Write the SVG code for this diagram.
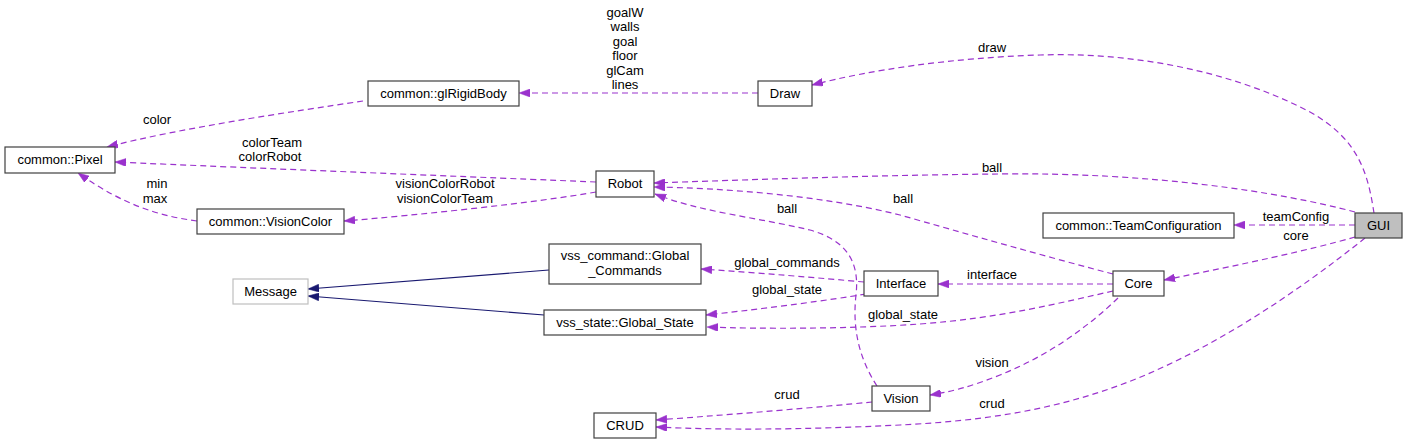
<svg xmlns="http://www.w3.org/2000/svg" width="1408" height="444" viewBox="0 0 1408 444">
<style>
text{font-family:"Liberation Sans",Arial,Helvetica,sans-serif;font-size:13px;fill:#000}
.n rect{fill:#fff;stroke:#404040;stroke-width:1.2}
.n text{text-anchor:middle}
.e{fill:none;stroke:#9a32cd;stroke-width:1.2;stroke-dasharray:6,4;marker-end:url(#ap)}
.i{fill:none;stroke:#191970;stroke-width:1.2;marker-end:url(#an)}
.l text{text-anchor:middle}
</style>
<defs>
<marker id="ap" viewBox="0 0 11 8" refX="11" refY="4" markerWidth="11" markerHeight="8" markerUnits="userSpaceOnUse" orient="auto"><path d="M0,0L11,4L0,8z" fill="#9a32cd" stroke="#9a32cd" stroke-width="0.5"/></marker>
<marker id="an" viewBox="0 0 11 8" refX="11" refY="4" markerWidth="11" markerHeight="8" markerUnits="userSpaceOnUse" orient="auto"><path d="M0,0L11,4L0,8z" fill="#191970" stroke="#191970" stroke-width="0.5"/></marker>
</defs>
<rect width="1408" height="444" fill="#fff"/>
<g id="connectors">
<path class="e" d="M758,93 L519,93"/>
<path class="e" d="M363,101 C290,112 180,128 107,147"/>
<path class="e" d="M596,182 C500,178 250,168 115,162"/>
<path class="e" d="M596,192 C540,202 420,215 344,221"/>
<path class="e" d="M197,221 C160,216 125,206 78,173"/>
<path class="e" d="M1374,213 C1368,175 1360,140 1310,112 C1230,70 1130,52 1040,55 C950,58 870,70 812,85"/>
<path class="e" d="M1355,212 C1280,192 1150,172 1000,174 C880,175 740,180 654,183"/>
<path class="e" d="M1113,274 C1040,255 960,232 900,215 C820,195 720,188 654,187"/>
<path class="e" d="M877,386 C860,360 852,330 856,295 C860,260 845,240 810,230 C760,218 700,212 655,194"/>
<path class="e" d="M1355,225 L1234,225"/>
<path class="e" d="M1355,237 C1310,250 1240,265 1164,280"/>
<path class="e" d="M1365,238 C1300,290 1200,360 1100,392 C1030,415 960,422 900,425 C800,430 720,430 656,427"/>
<path class="e" d="M1113,284 L938,284"/>
<path class="e" d="M1113,291 C1060,303 1000,318 920,324 C850,329 760,329 707,327"/>
<path class="e" d="M1118,298 C1090,325 1050,355 1000,375 C970,387 950,392 930,395"/>
<path class="e" d="M864,282 C820,278 760,273 701,269"/>
<path class="e" d="M866,294 C830,300 770,308 706,315"/>
<path class="e" d="M872,402 C820,407 740,414 656,420"/>
<path class="i" d="M549,270 L308,289"/>
<path class="i" d="M544,315 L308,296"/>
<g class="l">
<text x="625" y="17">goalW</text>
<text x="625" y="31.4">walls</text>
<text x="625" y="45.8">goal</text>
<text x="625" y="60.2">floor</text>
<text x="625" y="74.6">glCam</text>
<text x="625" y="89">lines</text>
<text x="157" y="124">color</text>
<text x="272" y="147">colorTeam</text>
<text x="270" y="161">colorRobot</text>
<text x="445" y="188">visionColorRobot</text>
<text x="445" y="203">visionColorTeam</text>
<text x="157" y="188">min</text>
<text x="155" y="203">max</text>
<text x="992" y="52">draw</text>
<text x="992" y="172">ball</text>
<text x="903" y="203">ball</text>
<text x="787" y="213">ball</text>
<text x="1296" y="221">teamConfig</text>
<text x="1296" y="240">core</text>
<text x="992" y="279">interface</text>
<text x="903" y="319">global_state</text>
<text x="992" y="367">vision</text>
<text x="992" y="408">crud</text>
<text x="787" y="267">global_commands</text>
<text x="787" y="294">global_state</text>
<text x="787" y="399">crud</text>
</g>
</g>
<g id="node-pixel" class="n"><rect x="5" y="147" width="110" height="26"/><text x="60" y="164">common::Pixel</text></g>
<g id="node-glrigidbody" class="n"><rect x="368" y="81" width="151" height="25"/><text x="443.5" y="97.5">common::glRigidBody</text></g>
<g id="node-draw" class="n"><rect x="758" y="81" width="54" height="25"/><text x="785" y="97.5">Draw</text></g>
<g id="node-robot" class="n"><rect x="596" y="171" width="58" height="26"/><text x="625" y="188">Robot</text></g>
<g id="node-visioncolor" class="n"><rect x="197" y="209" width="147" height="25"/><text x="270.5" y="225.5">common::VisionColor</text></g>
<g id="node-teamconfig" class="n"><rect x="1043" y="213" width="191" height="25"/><text x="1138.5" y="229.5">common::TeamConfiguration</text></g>
<g id="node-gui" class="n"><rect x="1355" y="213" width="47" height="25" style="fill:#bfbfbf"/><text x="1378.5" y="229.5">GUI</text></g>
<g id="node-message" class="n"><rect x="233" y="279" width="75" height="25" style="stroke:#bfbfbf"/><text x="270.5" y="295.5">Message</text></g>
<g id="node-globalcommands" class="n"><rect x="549" y="244" width="152" height="40"/><text x="625" y="259.5">vss_command::Global</text><text x="625" y="274.5">_Commands</text></g>
<g id="node-globalstate" class="n"><rect x="544" y="310" width="162" height="25"/><text x="625" y="326.5">vss_state::Global_State</text></g>
<g id="node-interface" class="n"><rect x="864" y="271" width="74" height="25"/><text x="901" y="287.5">Interface</text></g>
<g id="node-core" class="n"><rect x="1113" y="271" width="51" height="25"/><text x="1138.5" y="287.5">Core</text></g>
<g id="node-vision" class="n"><rect x="872" y="386" width="58" height="25"/><text x="901" y="402.5">Vision</text></g>
<g id="node-crud" class="n"><rect x="594" y="413" width="62" height="25"/><text x="625" y="429.5">CRUD</text></g>
</svg>
